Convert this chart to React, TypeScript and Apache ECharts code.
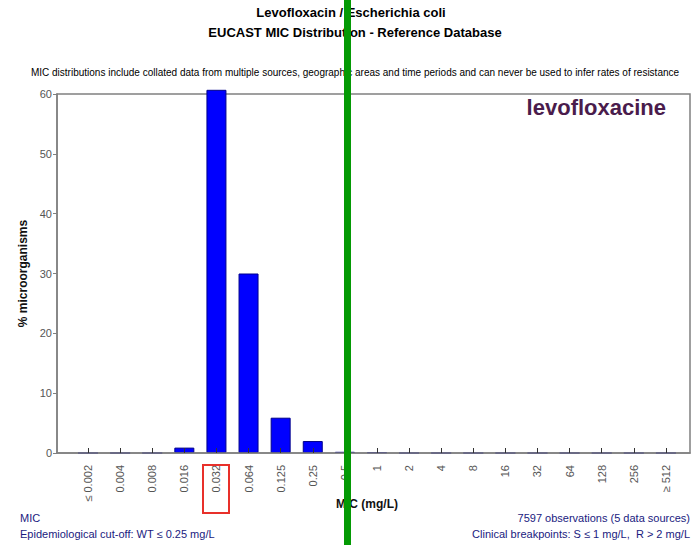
import React, { useEffect, useRef } from "react";
import * as echarts from "echarts";

const categories = ["≤ 0.002", "0.004", "0.008", "0.016", "0.032", "0.064", "0.125", "0.25", "0.5", "1", "2", "4", "8", "16", "32", "64", "128", "256", "≥ 512"];
const percentages = [0, 0, 0, 0.9, 60.7, 30.0, 5.9, 2.0, 0.2, 0.1, 0, 0, 0, 0, 0, 0, 0, 0, 0];
const yTicks = [0, 10, 20, 30, 40, 50, 60];

const FONT = "Arial, 'Liberation Sans', sans-serif";
const NAVY = "#1a1a80";

export default function App() {
  const ref = useRef<HTMLDivElement>(null);
  useEffect(() => {
    if (!ref.current) return;
    const chart = echarts.init(ref.current, null, { renderer: "svg" });
    const idx = categories.map((_, i) => i);
    chart.setOption({
      animation: false,
      backgroundColor: "#ffffff",
      textStyle: { fontFamily: FONT },
      grid: {
        left: 57, top: 94, right: 10, bottom: 92,
        show: true, borderColor: "#808080", borderWidth: 1.5, backgroundColor: "transparent",
      },
      xAxis: {
        type: "value",
        min: -0.966,
        max: 18.75,
        z: 3,
        splitLine: { show: false },
        axisLine: { show: true, onZero: false, lineStyle: { color: "#808080", width: 1.5 } },
        axisTick: { show: true, inside: true, length: 5, customValues: idx, lineStyle: { color: "#333" } },
        axisLabel: {
          customValues: idx,
          rotate: 90,
          margin: 12,
          fontSize: 11,
          color: "#555",
          fontFamily: FONT,
          formatter: (v: number) => categories[Math.round(v)] ?? "",
        },
      },
      yAxis: {
        type: "value",
        min: 0,
        max: 60,
        interval: 10,
        name: "% microorganisms",
        nameLocation: "middle",
        nameGap: 28,
        nameTextStyle: { fontSize: 12, fontWeight: "bold", color: "#111", fontFamily: FONT },
        splitLine: { show: false },
        axisLine: { show: true, onZero: false, lineStyle: { color: "#808080", width: 1.5 } },
        axisTick: { show: true, length: 4, lineStyle: { color: "#808080" } },
        axisLabel: { fontSize: 11, color: "#555", margin: 5, fontFamily: FONT, customValues: yTicks },
      },
      series: [
        {
          type: "bar",
          clip: false,
          barWidth: 20,
          data: percentages.map((v, i) => [i, v]),
          itemStyle: { color: "#0000ff", borderColor: "#00008b", borderWidth: 1 },
        },
      ],
      graphic: [
        { type: "text", x: 351, y: 12, style: { text: "Levofloxacin / Escherichia coli", font: `bold 13px ${FONT}`, fill: "#000", align: "center", verticalAlign: "middle" } },
        { type: "text", x: 355, y: 32, style: { text: "EUCAST MIC Distribution - Reference Database", font: `bold 13px ${FONT}`, fill: "#000", align: "center", verticalAlign: "middle" } },
        { type: "text", x: 355, y: 72, style: { text: "MIC distributions include collated data from multiple sources, geographic areas and time periods and can never be used to infer rates of resistance", font: `10px ${FONT}`, fill: "#000", align: "center", verticalAlign: "middle" } },
        { type: "text", x: 666, y: 107, style: { text: "levofloxacine", font: `bold 22px ${FONT}`, fill: "#4a1c4c", align: "right", verticalAlign: "middle" } },
        { type: "text", x: 367, y: 504, style: { text: "MIC (mg/L)", font: `bold 12px ${FONT}`, fill: "#111", align: "center", verticalAlign: "middle" } },
        { type: "text", x: 20, y: 518, style: { text: "MIC", font: `11px ${FONT}`, fill: NAVY, align: "left", verticalAlign: "middle" } },
        { type: "text", x: 20, y: 534, style: { text: "Epidemiological cut-off: WT ≤ 0.25 mg/L", font: `11px ${FONT}`, fill: NAVY, align: "left", verticalAlign: "middle" } },
        { type: "text", x: 690, y: 518, style: { text: "7597 observations (5 data sources)", font: `11px ${FONT}`, fill: NAVY, align: "right", verticalAlign: "middle" } },
        { type: "text", x: 690, y: 534, style: { text: "Clinical breakpoints: S ≤ 1 mg/L,  R > 2 mg/L", font: `11px ${FONT}`, fill: NAVY, align: "right", verticalAlign: "middle" } },
        { type: "rect", shape: { x: 203, y: 465, width: 26, height: 48 }, style: { fill: "none", stroke: "#e8302a", lineWidth: 2 }, z: 50 },
        { type: "rect", shape: { x: 344, y: 0, width: 7, height: 545 }, style: { fill: "#049a04" }, z: 100 },
      ],
    });
    return () => chart.dispose();
  }, []);
  return <div ref={ref} style={{ position: "fixed", left: 0, top: 0, width: 700, height: 545 }} />;
}
